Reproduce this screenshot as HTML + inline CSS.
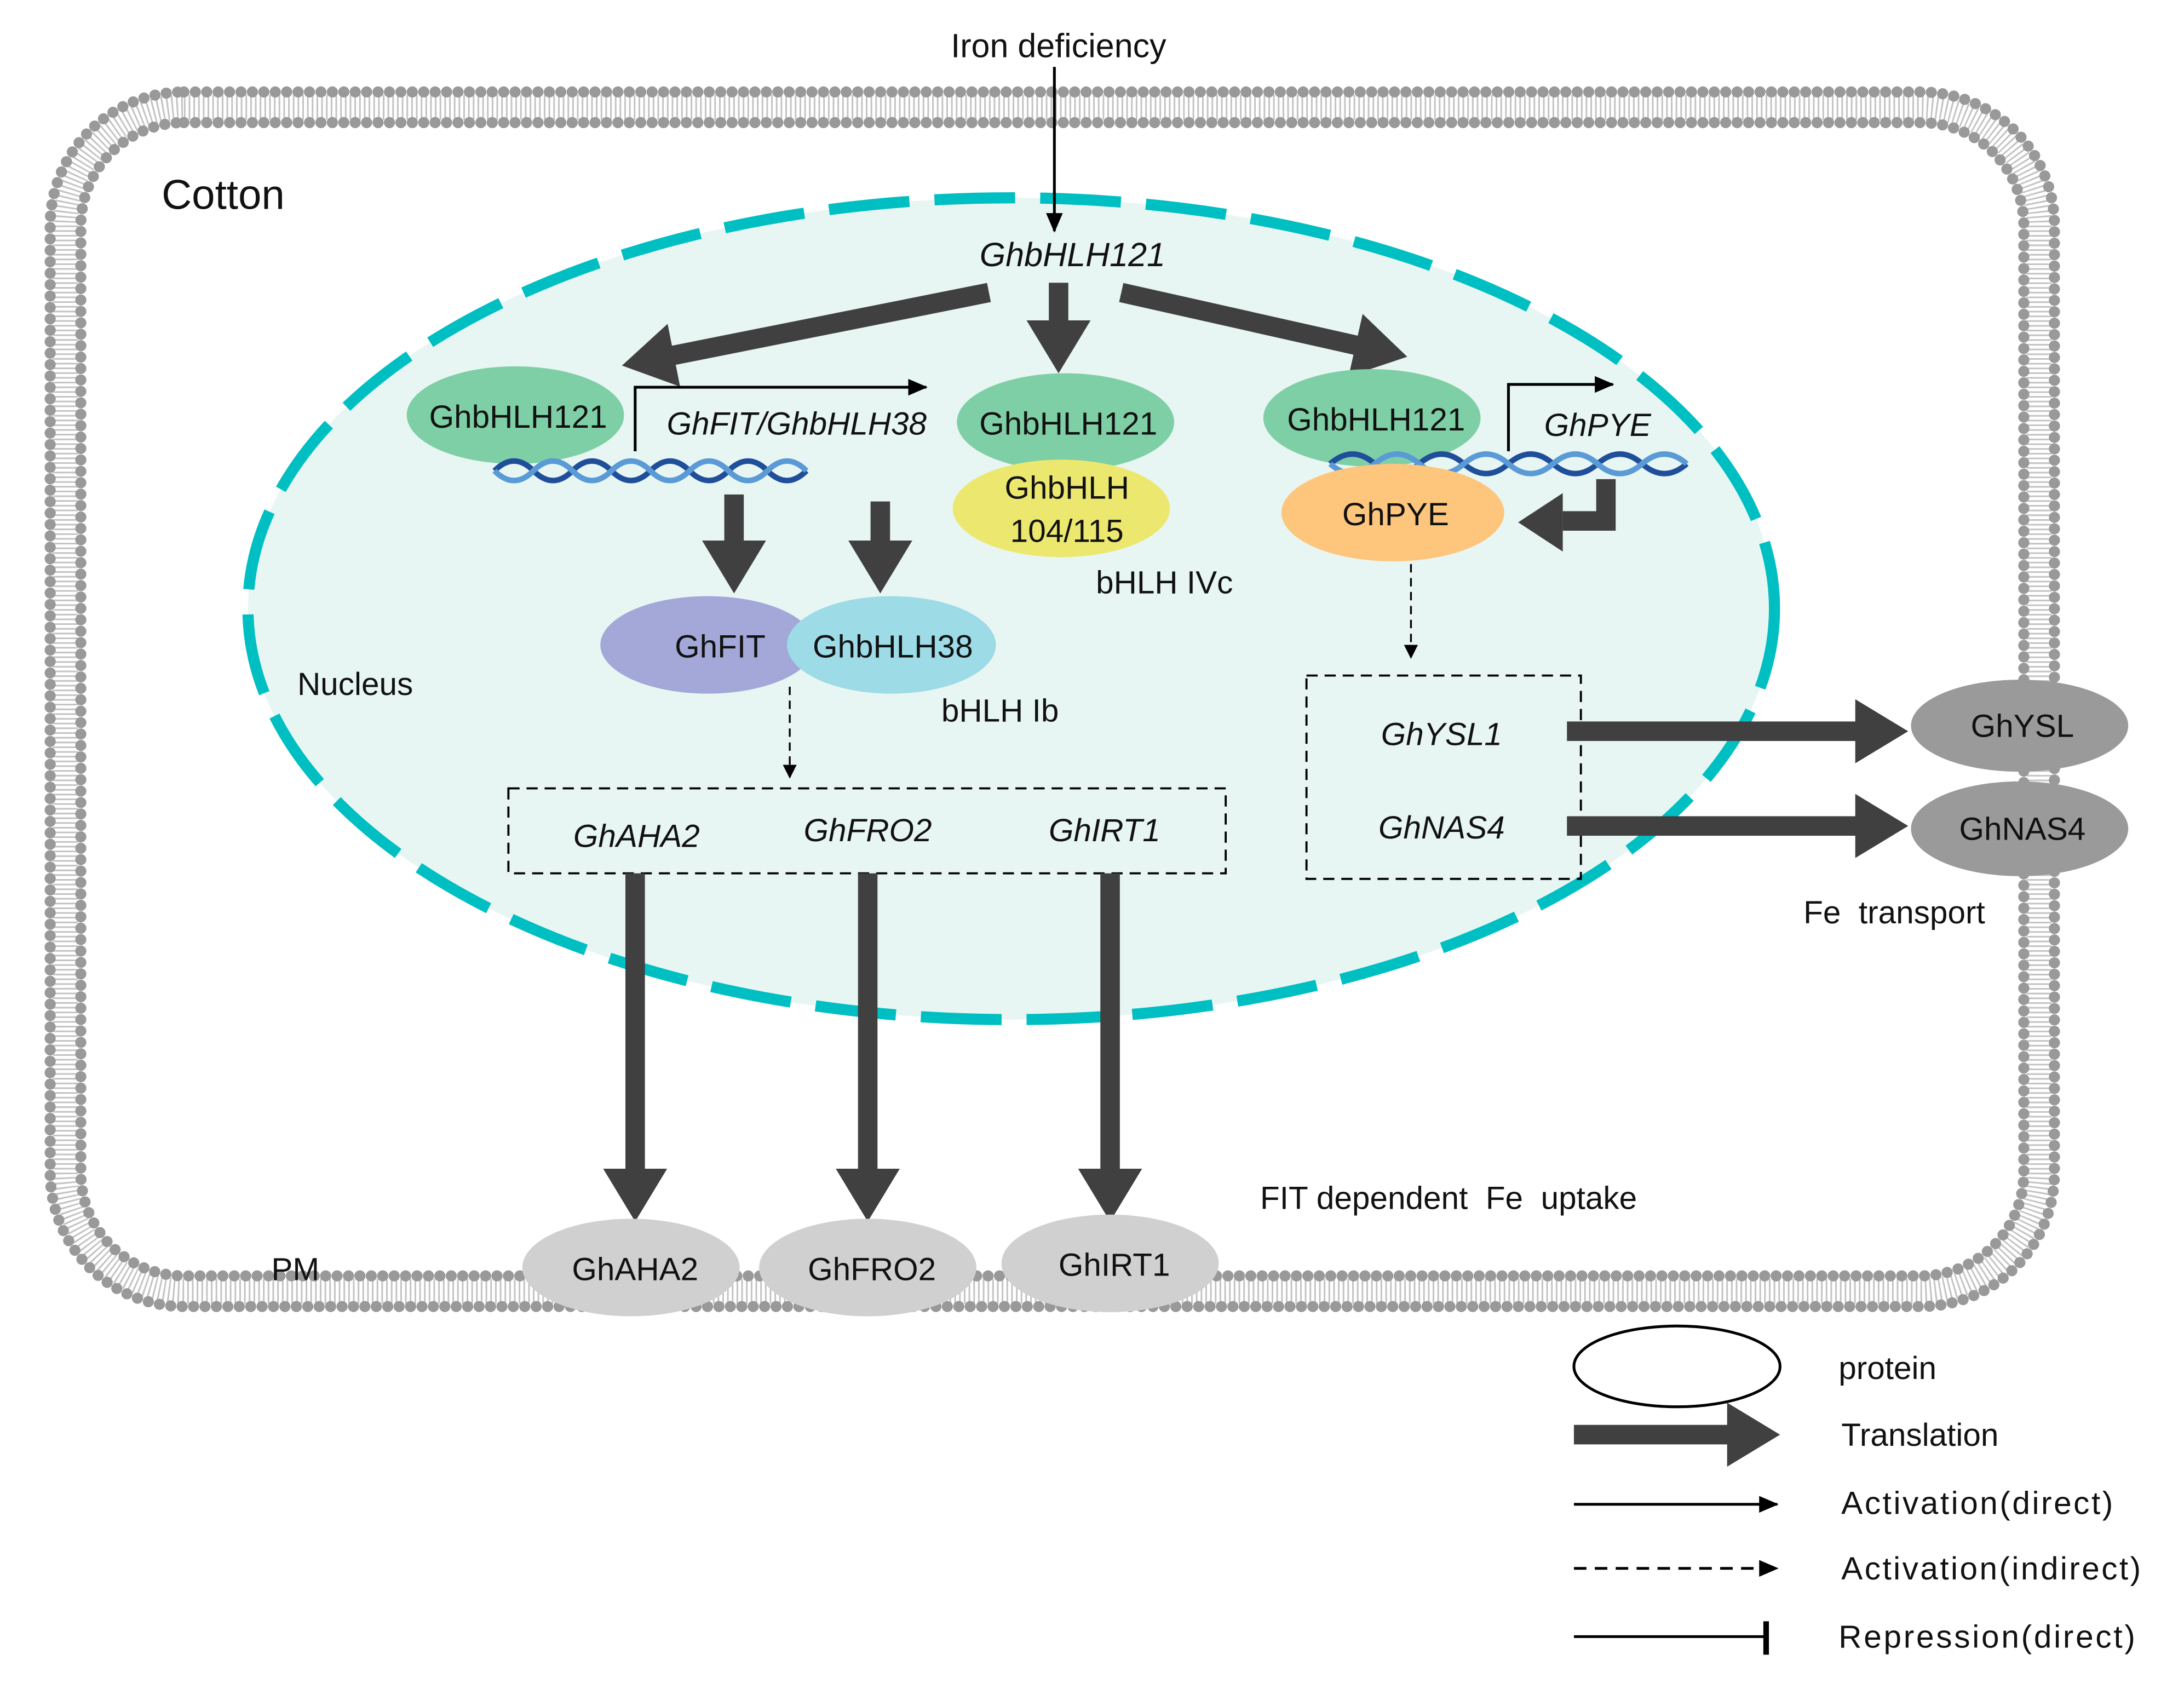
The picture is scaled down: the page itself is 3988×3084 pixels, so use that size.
<!DOCTYPE html>
<html><head><meta charset="utf-8"><style>
html,body{margin:0;padding:0;background:#fff}
svg{display:block}
text{font-family:"Liberation Sans",Arial,sans-serif;fill:#111}
.i{font-style:italic}
</style></head><body>
<svg width="3988" height="3084" viewBox="0 0 1568 1212.6" xmlns="http://www.w3.org/2000/svg">
<defs>
<marker id="th" markerUnits="userSpaceOnUse" markerWidth="40" markerHeight="46" refX="10" refY="23" orient="auto"><path d="M0,0 L38,23 L0,46 z" fill="#404040"/></marker>
<marker id="tn" markerUnits="userSpaceOnUse" markerWidth="14" markerHeight="12" refX="13" refY="6" orient="auto"><path d="M0,0 L14,6 L0,12 z" fill="#000"/></marker>
<marker id="ts" markerUnits="userSpaceOnUse" markerWidth="10" markerHeight="10" refX="9" refY="5" orient="auto"><path d="M0,0 L10,5 L0,10 z" fill="#000"/></marker>
</defs>
<!-- membrane (lipid bilayer) -->
<rect x="47" y="77" width="1417" height="850" rx="85" fill="none" stroke="#c4c4c4" stroke-width="18" stroke-dasharray="1.2 2.2"/>
<rect x="36" y="66" width="1439" height="872" rx="96" fill="none" stroke="#999" stroke-width="8" stroke-linecap="round" stroke-dasharray="0 8.2"/>
<rect x="58" y="88" width="1395" height="828" rx="74" fill="none" stroke="#999" stroke-width="8" stroke-linecap="round" stroke-dasharray="0 8.2"/>
<!-- nucleus -->
<ellipse cx="726" cy="437" rx="548" ry="295" fill="#e8f6f3" stroke="#00bfc2" stroke-width="8" stroke-dasharray="58 18"/>
<text x="760" y="41" font-size="24" text-anchor="middle">Iron deficiency</text>
<line x1="757" y1="48" x2="757" y2="166" stroke="#000" stroke-width="2" marker-end="url(#tn)"/>
<text x="116" y="150" font-size="30">Cotton</text>
<text x="770" y="191" font-size="24" class="i" text-anchor="middle">GhbHLH121</text>
<line x1="710" y1="210" x2="474" y2="257" stroke="#404040" stroke-width="14" marker-end="url(#th)"/>
<line x1="760" y1="203" x2="760" y2="240" stroke="#404040" stroke-width="14" marker-end="url(#th)"/>
<line x1="805" y1="210" x2="983" y2="250" stroke="#404040" stroke-width="14" marker-end="url(#th)"/>
<ellipse cx="370" cy="298" rx="78" ry="35" fill="#7ecfa5"/>
<text x="372" y="307" font-size="23" text-anchor="middle">GhbHLH121</text>
<ellipse cx="765" cy="303" rx="78" ry="35" fill="#7ecfa5"/>
<ellipse cx="762" cy="365" rx="78" ry="35" fill="#ece86f"/>
<text x="767" y="312" font-size="23" text-anchor="middle">GhbHLH121</text>
<text x="766" y="358" font-size="23" text-anchor="middle">GhbHLH</text>
<text x="766" y="389" font-size="23" text-anchor="middle">104/115</text>
<ellipse cx="985" cy="300" rx="78" ry="35" fill="#7ecfa5"/>
<text x="988" y="309" font-size="23" text-anchor="middle">GhbHLH121</text>
<g fill="none" stroke-width="4">
<path d="M355,338 q14,-14 28,0 t28,0 t28,0 t28,0 t28,0 t28,0 t28,0 t28,0" stroke="#1f4e9a"/>
<path d="M355,338 q14,14 28,0 t28,0 t28,0 t28,0 t28,0 t28,0 t28,0 t28,0" stroke="#5a9ad6"/>
<path d="M955,333 q16,-14 32,0 t32,0 t32,0 t32,0 t32,0 t32,0 t32,0 t32,0" stroke="#1f4e9a"/>
<path d="M955,333 q16,14 32,0 t32,0 t32,0 t32,0 t32,0 t32,0 t32,0 t32,0" stroke="#5a9ad6"/>
</g>
<ellipse cx="1000" cy="368" rx="80" ry="35" fill="#fdc67c"/>
<text x="1002" y="377" font-size="23" text-anchor="middle">GhPYE</text>
<path d="M456,324 V278 H665" fill="none" stroke="#000" stroke-width="2" marker-end="url(#tn)"/>
<text x="572" y="312" font-size="23" class="i" text-anchor="middle">GhFIT/GhbHLH38</text>
<path d="M1083,324 V276 H1158" fill="none" stroke="#000" stroke-width="2" marker-end="url(#tn)"/>
<text x="1147" y="313" font-size="23" class="i" text-anchor="middle">GhPYE</text>
<path d="M1153,344 V374 H1122" fill="none" stroke="#404040" stroke-width="14"/>
<path d="M1122,354 L1090,375 L1122,396 z" fill="#404040"/>
<line x1="527" y1="355" x2="527" y2="398" stroke="#404040" stroke-width="14" marker-end="url(#th)"/>
<line x1="632" y1="360" x2="632" y2="398" stroke="#404040" stroke-width="14" marker-end="url(#th)"/>
<ellipse cx="508" cy="463" rx="77" ry="35" fill="#a3a8d8"/>
<ellipse cx="640" cy="463" rx="75" ry="35" fill="#9ddbe6"/>
<text x="517" y="472" font-size="23" text-anchor="middle">GhFIT</text>
<text x="641" y="472" font-size="23" text-anchor="middle">GhbHLH38</text>
<text x="718" y="518" font-size="23" text-anchor="middle">bHLH Ib</text>
<text x="836" y="426" font-size="23" text-anchor="middle">bHLH IVc</text>
<text x="255" y="499" font-size="23" text-anchor="middle">Nucleus</text>
<line x1="567" y1="493" x2="567" y2="558" stroke="#000" stroke-width="1.3" stroke-dasharray="6 4" marker-end="url(#ts)"/>
<rect x="365" y="566" width="515" height="61" fill="none" stroke="#000" stroke-width="1.5" stroke-dasharray="8 5"/>
<text x="457" y="608" font-size="23" class="i" text-anchor="middle">GhAHA2</text>
<text x="623" y="604" font-size="23" class="i" text-anchor="middle">GhFRO2</text>
<text x="793" y="604" font-size="23" class="i" text-anchor="middle">GhIRT1</text>
<line x1="1013" y1="405" x2="1013" y2="472" stroke="#000" stroke-width="1.3" stroke-dasharray="6 4" marker-end="url(#ts)"/>
<rect x="938" y="485" width="197" height="146" fill="none" stroke="#000" stroke-width="1.5" stroke-dasharray="8 5"/>
<text x="1035" y="535" font-size="23" class="i" text-anchor="middle">GhYSL1</text>
<text x="1035" y="602" font-size="23" class="i" text-anchor="middle">GhNAS4</text>
<line x1="1125" y1="525" x2="1342" y2="525" stroke="#404040" stroke-width="14" marker-end="url(#th)"/>
<line x1="1125" y1="593" x2="1342" y2="593" stroke="#404040" stroke-width="14" marker-end="url(#th)"/>
<ellipse cx="1450" cy="521" rx="78" ry="33" fill="#9a9a9a"/>
<ellipse cx="1450" cy="595" rx="78" ry="34" fill="#9a9a9a"/>
<text x="1452" y="529" font-size="23" text-anchor="middle">GhYSL</text>
<text x="1452" y="603" font-size="23" text-anchor="middle">GhNAS4</text>
<text x="1360" y="663" font-size="23" text-anchor="middle" xml:space="preserve">Fe  transport</text>
<line x1="456" y1="627" x2="456" y2="849" stroke="#404040" stroke-width="14" marker-end="url(#th)"/>
<line x1="623" y1="627" x2="623" y2="849" stroke="#404040" stroke-width="14" marker-end="url(#th)"/>
<line x1="797" y1="627" x2="797" y2="849" stroke="#404040" stroke-width="14" marker-end="url(#th)"/>
<ellipse cx="453" cy="910" rx="78" ry="35" fill="#d0d0d0"/>
<ellipse cx="623" cy="910" rx="78" ry="35" fill="#d0d0d0"/>
<ellipse cx="797" cy="907" rx="78" ry="35" fill="#d0d0d0"/>
<text x="456" y="919" font-size="23" text-anchor="middle">GhAHA2</text>
<text x="626" y="919" font-size="23" text-anchor="middle">GhFRO2</text>
<text x="800" y="916" font-size="23" text-anchor="middle">GhIRT1</text>
<text x="1040" y="868" font-size="23" text-anchor="middle" xml:space="preserve">FIT dependent  Fe  uptake</text>
<text x="212" y="919" font-size="23" text-anchor="middle">PM</text>
<ellipse cx="1204" cy="981" rx="74" ry="29" fill="none" stroke="#000" stroke-width="2"/>
<text x="1320" y="990" font-size="23">protein</text>
<line x1="1130" y1="1030" x2="1250" y2="1030" stroke="#404040" stroke-width="14" marker-end="url(#th)"/>
<text x="1322" y="1038" font-size="23">Translation</text>
<line x1="1130" y1="1080" x2="1276" y2="1080" stroke="#000" stroke-width="2" marker-end="url(#tn)"/>
<text x="1322" y="1087" font-size="23" textLength="195">Activation(direct)</text>
<line x1="1130" y1="1126" x2="1276" y2="1126" stroke="#000" stroke-width="2" stroke-dasharray="9 6" marker-end="url(#tn)"/>
<text x="1322" y="1134" font-size="23" textLength="215">Activation(indirect)</text>
<line x1="1130" y1="1175" x2="1268" y2="1175" stroke="#000" stroke-width="2"/>
<line x1="1268" y1="1164" x2="1268" y2="1188" stroke="#000" stroke-width="4"/>
<text x="1320" y="1183" font-size="23" textLength="213">Repression(direct)</text>
</svg>
</body></html>
